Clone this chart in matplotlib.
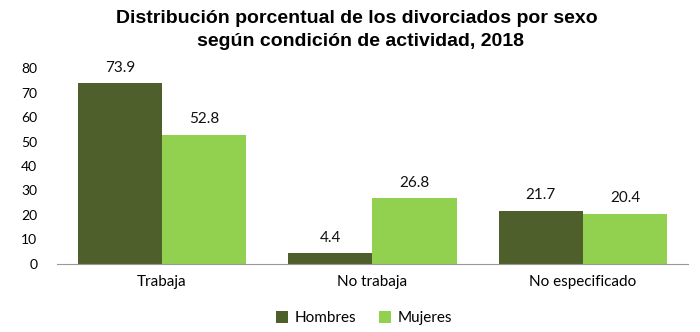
import matplotlib
matplotlib.use("Agg")
import matplotlib.pyplot as plt
import numpy as np

categorias = ["Trabaja", "No trabaja", "No especificado"]
hombres = [73.9, 4.4, 21.7]
mujeres = [52.8, 26.8, 20.4]
series = ["Hombres", "Mujeres"]
yticks = [0, 10, 20, 30, 40, 50, 60, 70, 80]

color_h = "#4f5f2c"
color_m = "#92d050"

plt.rcParams['font.family'] = ['Lato', 'DejaVu Sans']

fig = plt.figure(figsize=(7, 3.32), dpi=100)
ax = fig.add_axes([0.081, 0.206, 0.902, 0.588])

x = np.arange(len(categorias))
w = 0.4
b1 = ax.bar(x - w / 2, hombres, w, color=color_h, label=series[0])
b2 = ax.bar(x + w / 2, mujeres, w, color=color_m, label=series[1])

# etiquetas de valor sobre cada barra
for bars, vals in ((b1, hombres), (b2, mujeres)):
    for r, v in zip(bars, vals):
        ax.annotate(f"{v:.1f}", (r.get_x() + r.get_width() / 2, v),
                    xytext=(0, 6), textcoords="offset points",
                    ha="center", va="bottom", fontsize=11, color="#111111")

ax.set_xlim(-0.5, 2.5)
ax.set_ylim(0, 80)
ax.set_yticks(yticks)
ax.set_xticks(x)
ax.set_xticklabels(categorias, fontsize=11)
ax.tick_params(axis="y", length=0, labelsize=10, pad=14)
ax.tick_params(axis="x", length=0, pad=8)
for s in ("top", "right", "left"):
    ax.spines[s].set_visible(False)
ax.spines["bottom"].set_color("#999999")

# título en dos líneas
titulo = dict(ha="center", va="center", fontsize=14, fontweight="bold",
              family=['Liberation Sans', 'DejaVu Sans'])
fig.text(0.51, 0.943, "Distribución porcentual de los divorciados por sexo", **titulo)
fig.text(0.515, 0.876, "según condición de actividad, 2018", **titulo)

fig.legend(loc="center", bbox_to_anchor=(0.52, 0.042), ncol=2, frameon=False,
           fontsize=11, handlelength=0.8, handleheight=0.8, handletextpad=0.4,
           columnspacing=1.5)

fig.savefig("out.png", dpi=100)
